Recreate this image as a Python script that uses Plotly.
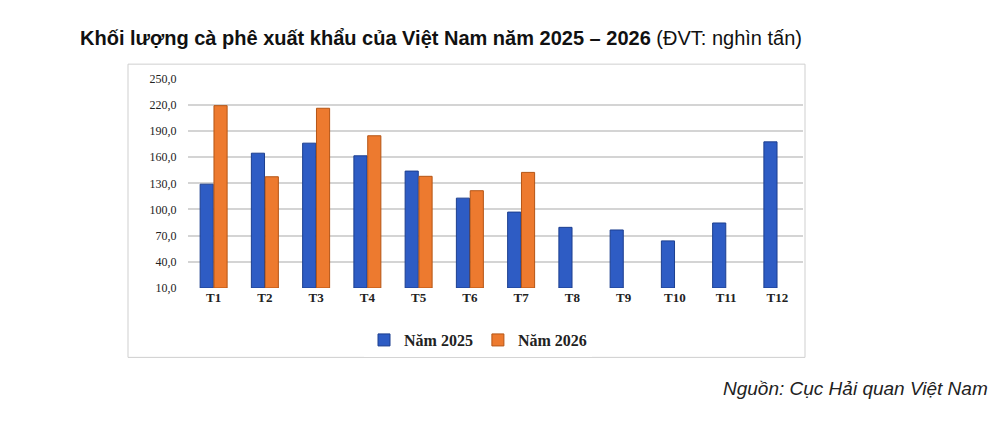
import plotly.graph_objects as go

# Data (nghìn tấn)
months = ["T1", "T2", "T3", "T4", "T5", "T6", "T7", "T8", "T9", "T10", "T11", "T12"]
y2025 = [129, 164.5, 176, 161.5, 144, 113, 97, 79.5, 76.5, 64, 84.5, 177.5]
y2026 = [219, 137.5, 216, 184.5, 138, 121.5, 142.5, None, None, None, None, None]
tick_vals = [10, 40, 70, 100, 130, 160, 190, 220, 250]

serif = "Liberation Serif"

fig = go.Figure()
fig.add_trace(go.Bar(x=months, y=[v - 10 for v in y2025], base=10, name="<b>Năm 2025</b>",
                     marker=dict(color="#2e5cc4", line=dict(color="#1d3f8f", width=1))))
fig.add_trace(go.Bar(x=months, y=[None if v is None else v - 10 for v in y2026], base=10,
                     name="<b>Năm 2026</b>",
                     marker=dict(color="#ed7a2f", line=dict(color="#b55515", width=1))))

fig.update_layout(
    width=1000, height=427,
    paper_bgcolor="white", plot_bgcolor="white",
    margin=dict(l=0, r=0, t=0, b=0),
    barmode="group", bargap=0.46, bargroupgap=0.05,
    separators=",.",
    showlegend=True,
    legend=dict(orientation="h", x=0.47, y=0.213, xanchor="center", yanchor="middle",
                font=dict(family=serif, size=16, color="#222"), itemwidth=30),
    xaxis=dict(domain=[0.18, 0.795], showline=False, ticks="", tickprefix="<b>", ticksuffix="</b>",
               tickfont=dict(family=serif, size=13, color="#222")),
    yaxis=dict(domain=[0.339, 0.846], range=[10, 250], tickvals=tick_vals,
               tickformat=".1f", tickprefix="<b>", ticksuffix="</b>",
               showgrid=True, gridcolor="#d4d4d4", gridwidth=1.5,
               zeroline=False, showline=False, ticks="outside", ticklen=8, tickcolor="white",
               tickfont=dict(family=serif, size=12, color="#222")),
    font=dict(family="Liberation Sans"),
)

fig.add_shape(type="rect", xref="paper", yref="paper", x0=0.12, x1=0.797, y0=0.171, y1=0.881,
              line=dict(color="#cfcfcf", width=1))

fig.add_annotation(xref="paper", yref="paper", x=0.07, y=0.945, xanchor="left", yanchor="middle",
                   showarrow=False, font=dict(size=20, color="#111", family="Liberation Sans"),
                   text="<b>Khối lượng cà phê xuất khẩu của Việt Nam năm 2025 – 2026</b> (ĐVT: nghìn tấn)")
fig.add_annotation(xref="paper", yref="paper", x=0.982, y=0.095, xanchor="right", yanchor="middle",
                   showarrow=False, font=dict(size=19, color="#222", family="Liberation Sans"),
                   text="<i>Nguồn: Cục Hải quan Việt Nam</i>")

fig.write_html("out.html")
